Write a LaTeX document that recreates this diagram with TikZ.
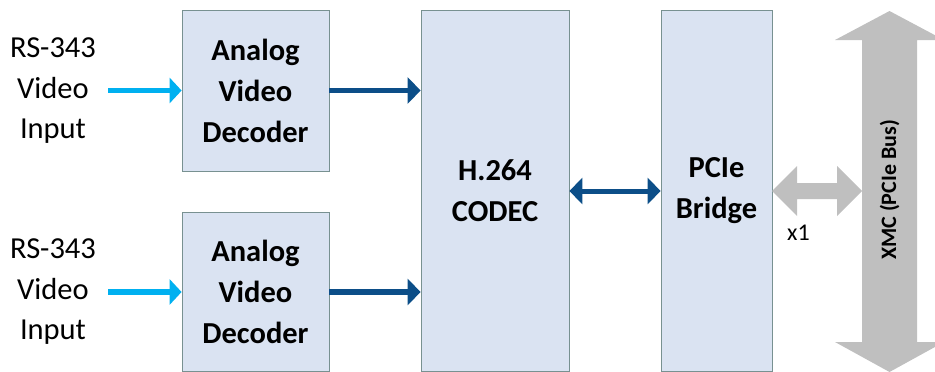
\documentclass[tikz,border=0pt]{standalone}
\usepackage{fontspec}
\setmainfont{Carlito}
\usetikzlibrary{arrows.meta}
\definecolor{boxfill}{RGB}{218,227,242}
\definecolor{boxline}{RGB}{120,145,145}
\definecolor{cyanarrow}{RGB}{0,176,240}
\definecolor{darkarrow}{RGB}{12,78,136}
\definecolor{busgray}{RGB}{191,191,191}
\tikzset{
  blockbox/.style={draw=boxline, line width=0.8pt, fill=boxfill, inner sep=0pt, align=center,
    font=\bfseries\fontsize{30.5}{41}\selectfont},
  inlabel/.style={align=center, inner sep=0pt, font=\fontsize{30.5}{40.5}\selectfont},
  inarrow/.style={draw=cyanarrow, line width=5.5pt, -{Triangle[length=12pt,width=25pt]}},
  outarrow/.style={draw=darkarrow, line width=5.5pt, -{Triangle[length=13pt,width=26pt]}},
  bidarrow/.style={draw=darkarrow, line width=5pt, {Triangle[length=13pt,width=26pt]}-{Triangle[length=13pt,width=26pt]}},
  busshape/.style={fill=busgray, draw=none}
}
\begin{document}
\begin{tikzpicture}[x=1pt,y=-1pt]
\useasboundingbox (0,0) rectangle (935,372);
% blocks
\node[blockbox, minimum width=147pt, minimum height=161pt] (dec1) at (255.5,90.5) {Analog\\Video\\Decoder};
\node[blockbox, minimum width=147pt, minimum height=159pt] (dec2) at (255.5,291.5) {Analog\\Video\\Decoder};
\node[blockbox, minimum width=148pt, minimum height=361pt] (codec) at (495,190.5) {H.264\\CODEC};
\node[blockbox, minimum width=111pt, minimum height=361pt] (bridge) at (716.5,190.5) {PCIe\\Bridge};
% input labels
\node[inlabel] (in1) at (53,91) {RS-343\\Video\\Input};
\node[inlabel] (in2) at (53,292) {RS-343\\Video\\Input};
\coordinate (s1) at (108,90.5);
\coordinate (s2) at (108,292);
% arrows
\draw[inarrow] (s1) -- (s1 -| dec1.west);
\draw[inarrow] (s2) -- (s2 -| dec2.west);
\draw[outarrow] (dec1.east |- s1) -- (codec.west |- s1);
\draw[outarrow] (dec2.east |- s2) -- (codec.west |- s2);
\coordinate (m) at (615,191);
\draw[bidarrow] (codec.east |- m) -- (bridge.west |- m);
% XMC bus arrow
\path[busshape] (889.5,11) -- (944,40) -- (917,40) -- (917,342) -- (944,342) -- (889.5,372)
  -- (835,342) -- (862,342) -- (862,40) -- (835,40) -- cycle;
\node[rotate=90, font=\bfseries\fontsize{22}{26}\selectfont, inner sep=0pt] (xmc) at (889.5,190) {XMC (PCIe Bus)};
% x1 link arrow
\path[busshape] (772,191) -- (797,166) -- (797,183) -- (837,183) -- (837,166) -- (862,191)
  -- (837,216) -- (837,199) -- (797,199) -- (797,216) -- cycle;
\node[font=\fontsize{24}{28}\selectfont, anchor=base, inner sep=0pt] (x1) at (798.5,240) {x1};
\end{tikzpicture}
\end{document}
